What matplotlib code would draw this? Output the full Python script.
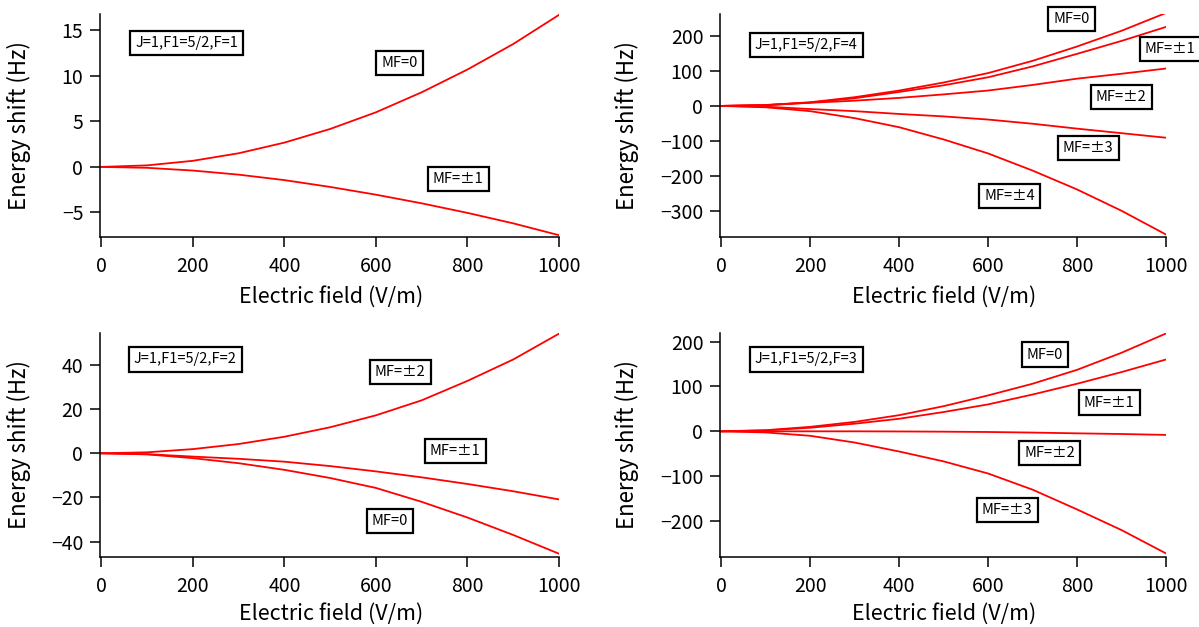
import matplotlib
matplotlib.use('Agg')
import matplotlib.pyplot as plt
import numpy as np

plt.rcParams['font.family'] = ['Noto Sans CJK JP', 'DejaVu Sans']

# electric field grid (V/m)
field = [0, 100, 200, 300, 400, 500, 600, 700, 800, 900, 1000]

# J=1, F1=5/2, F=1
f1_mf0 = [0, 0.17, 0.67, 1.5, 2.67, 4.17, 6.0, 8.2, 10.7, 13.5, 16.7]
f1_mf1 = [0, -0.1, -0.4, -0.85, -1.45, -2.2, -3.05, -4.0, -5.05, -6.2, -7.5]

# J=1, F1=5/2, F=4
f4_mf0 = [0, 2.6, 10.5, 25, 44, 67, 94, 129, 170, 215, 266]
f4_mf1 = [0, 2.3, 9.5, 22, 40, 59, 82, 113, 149, 186, 226]
f4_mf2 = [0, 2.2, 9, 15, 23, 33, 44, 60, 78, 92, 107]
f4_mf3 = [0, -2.2, -9, -15, -23, -30, -39, -51, -65, -78, -91]
f4_mf4 = [0, -4, -15, -35, -61, -96, -136, -185, -239, -300, -368]

# J=1, F1=5/2, F=2
f2_mf2 = [0, 0.45, 1.9, 4.2, 7.5, 11.8, 17.2, 24, 32.8, 42.5, 54.2]
f2_mf1 = [0, -0.4, -1.5, -2.5, -3.8, -5.8, -8.2, -10.9, -13.9, -17.2, -20.9]
f2_mf0 = [0, -0.5, -2.2, -4.5, -7.5, -11.2, -15.7, -22, -29.1, -37, -45.5]

# J=1, F1=5/2, F=3
f3_mf0 = [0, 2.5, 10, 21, 36, 56, 80, 106, 137, 175, 218]
f3_mf1 = [0, 2, 8, 17, 28, 43, 60, 82, 106, 132, 160]
f3_mf2 = [0, 0, 0, 0, -0.3, -0.8, -1.5, -2.8, -4.5, -6, -8]
f3_mf3 = [0, -2.5, -10, -25, -45, -67, -94, -130, -174, -220, -272]

x = np.array(field)

fig = plt.figure(figsize=(11.99, 6.27), dpi=100)

panels = [
    # rect, ylim, yticks, title, title pos, curves, labels, ylabel x, xlabel y
    ([0.0834, 0.622, 0.3828, 0.3557], (-7.7, 16.8), [-5, 0, 5, 10, 15],
     'J=1,F1=5/2,F=1', (186, 13.6),
     [f1_mf0, f1_mf1],
     [('MF=0', 651, 11.4), ('MF=±1', 780, -1.3)], -0.150, -0.268),
    ([0.6005, 0.622, 0.3720, 0.3557], (-375, 263), [-300, -200, -100, 0, 100, 200],
     'J=1,F1=5/2,F=4', (191, 174),
     [f4_mf0, f4_mf1, f4_mf2, f4_mf3, f4_mf4],
     [('MF=0', 787, 249), ('MF=±1', 1009, 163), ('MF=±2', 899, 26),
      ('MF=±3', 825, -120), ('MF=±4', 649, -257)], -0.181, -0.268),
    ([0.0834, 0.1116, 0.3828, 0.3573], (-47, 54.5), [-40, -20, 0, 20, 40],
     'J=1,F1=5/2,F=2', (183, 42.5),
     [f2_mf2, f2_mf1, f2_mf0],
     [('MF=±2', 653, 37), ('MF=±1', 773, 0.9), ('MF=0', 631, -30.7)], -0.150, -0.255),
    ([0.6005, 0.1116, 0.3720, 0.3573], (-280, 219), [-200, -100, 0, 100, 200],
     'J=1,F1=5/2,F=3', (191, 160),
     [f3_mf0, f3_mf1, f3_mf2, f3_mf3],
     [('MF=0', 728, 171), ('MF=±1', 872, 64), ('MF=±2', 739, -49),
      ('MF=±3', 643, -176)], -0.181, -0.255),
]

box = dict(boxstyle='square,pad=0.35', facecolor='white', edgecolor='black', linewidth=1.6)

for rect, ylim, yticks, title, tpos, curves, labels, ylx, xly in panels:
    ax = fig.add_axes(rect)
    for c in curves:
        ax.plot(x, c, color='red', lw=1.3)
    ax.set_xlim(-3, 1000)
    ax.set_ylim(*ylim)
    ax.set_xticks([0, 200, 400, 600, 800, 1000])
    ax.set_yticks(yticks)
    ax.spines['top'].set_visible(False)
    ax.spines['right'].set_visible(False)
    for s in ('left', 'bottom'):
        ax.spines[s].set_linewidth(1.1)
    ax.tick_params(direction='out', length=7, width=1.1, labelsize=14)
    ax.tick_params(axis='x', pad=7)
    ax.tick_params(axis='y', pad=5)
    ax.set_xlabel('Electric field (V/m)', fontsize=15.5, va='center')
    ax.set_ylabel('Energy shift (Hz)', fontsize=16)
    ax.xaxis.set_label_coords(0.503, xly)
    ax.yaxis.set_label_coords(ylx, 0.5)
    ax.text(tpos[0], tpos[1], title, fontsize=10.5, ha='center', va='center', bbox=box)
    for txt, lx, ly in labels:
        t = ax.text(lx, ly, txt, fontsize=10.5, ha='center', va='center', bbox=box)
        t.set_clip_on(False)

fig.savefig('out.png', dpi=100)
